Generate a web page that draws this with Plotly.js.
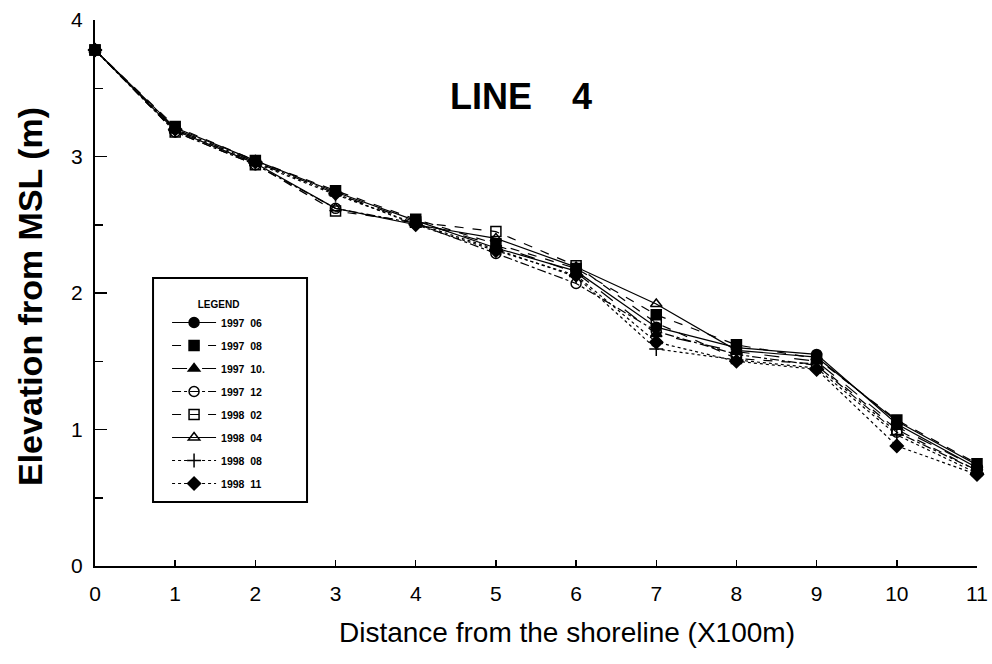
<!DOCTYPE html>
<html>
<head>
<meta charset="utf-8">
<script src="https://cdn.plot.ly/plotly-3.0.1.min.js"></script>
<style>html,body{margin:0;padding:0;background:#fff;}#chart{width:992px;height:664px;}</style>
</head>
<body>
<div id="chart"></div>
<script>
// Distance from shoreline (x100 m)
const distance = [0, 1, 2, 3, 4, 5, 6, 7, 8, 9, 10, 11];
// Survey labels
const surveys = ["1997  06", "1997  08", "1997  10.", "1997  12", "1998  02", "1998  04", "1998  08", "1998  11"];
// Elevation from MSL (m), one array per survey
const elev_199706 = [3.78, 3.21, 2.97, 2.74, 2.53, 2.33, 2.16, 1.75, 1.60, 1.55, 1.04, 0.72];
const elev_199708 = [3.78, 3.22, 2.97, 2.75, 2.54, 2.36, 2.18, 1.84, 1.62, 1.52, 1.07, 0.75];
const elev_199710 = [3.78, 3.20, 2.96, 2.73, 2.52, 2.35, 2.15, 1.70, 1.57, 1.50, 1.02, 0.72];
const elev_199712 = [3.78, 3.18, 2.94, 2.62, 2.51, 2.29, 2.07, 1.72, 1.55, 1.47, 0.98, 0.70];
const elev_199802 = [3.78, 3.18, 2.94, 2.60, 2.52, 2.45, 2.20, 1.78, 1.52, 1.48, 1.00, 0.70];
const elev_199804 = [3.78, 3.19, 2.95, 2.62, 2.50, 2.40, 2.19, 1.92, 1.58, 1.53, 1.06, 0.74];
const elev_199808 = [3.78, 3.19, 2.95, 2.72, 2.51, 2.32, 2.12, 1.59, 1.51, 1.45, 0.96, 0.68];
const elev_199811 = [3.78, 3.20, 2.96, 2.73, 2.50, 2.31, 2.13, 1.64, 1.50, 1.44, 0.88, 0.67];

const series = [elev_199706, elev_199708, elev_199710, elev_199712, elev_199802, elev_199804, elev_199808, elev_199811];
const symbols = ["circle", "square", "triangle-up", "circle-open", "square-open", "triangle-up-open", "cross-thin-open", "diamond"];
const dashes = ["solid", "dash", "longdash", "dashdot", "dash", "solid", "dot", "dot"];

const FONT = "Liberation Sans, Arial, sans-serif";

const traces = series.map((ys, i) => ({
  x: distance,
  y: ys,
  name: surveys[i],
  type: "scatter",
  mode: "lines+markers",
  legendgroup: "g" + i,
  legendrank: i + 1,
  cliponaxis: false,
  line: {color: "#000", width: 1.2, dash: dashes[i]},
  marker: {symbol: symbols[i], size: 10, color: "#000", line: {color: "#000", width: 1.5}}
}));
// draw the filled-square series on top
const order = [0, 2, 3, 4, 5, 6, 7, 1];
const data = order.map(i => traces[i]);

const layout = {
  width: 992, height: 664,
  margin: {l: 95, r: 15, t: 20, b: 98},
  paper_bgcolor: "#fff", plot_bgcolor: "#fff",
  font: {family: FONT, color: "#000"},
  showlegend: true,
  legend: {
    x: 0.0817, y: 0.4963, xanchor: "left", yanchor: "top",
    borderwidth: 0, bgcolor: "rgba(0,0,0,0)",
    font: {size: 10.5, family: FONT, weight: "bold"},
    title: {text: "LEGEND", side: "top center", font: {size: 10, family: FONT, weight: "bold"}},
    tracegroupgap: 4, traceorder: "grouped",
    itemwidth: 44
  },
  shapes: [{
    type: "rect", xref: "paper", yref: "paper",
    x0: 0.0658, x1: 0.2404, y0: 0.1172, y1: 0.5275,
    line: {color: "#000", width: 2}, fillcolor: "#fff", layer: "above"
  }],
  xaxis: {
    range: [0, 11], showgrid: false, zeroline: false,
    showline: true, linecolor: "#000", linewidth: 2,
    tickmode: "linear", tick0: 0, dtick: 1,
    ticks: "inside", ticklen: 6, tickwidth: 1.5, tickcolor: "#000",
    tickfont: {size: 21, family: FONT},
    ticklabelstandoff: 8
  },
  yaxis: {
    range: [0, 4], showgrid: false, zeroline: false,
    showline: true, linecolor: "#000", linewidth: 2,
    tickmode: "linear", tick0: 0, dtick: 1,
    ticks: "inside", ticklen: 12, tickwidth: 1.5, tickcolor: "#000",
    minor: {ticks: "inside", ticklen: 8, dtick: 0.5, tickwidth: 1.5, tickcolor: "#000", showgrid: false},
    tickfont: {size: 21, family: FONT},
    ticklabelstandoff: 6
  },
  annotations: [{
    text: "LINE&nbsp;&nbsp;&nbsp;&nbsp;4", xref: "paper", yref: "paper",
    x: 0.483, y: 0.859, xanchor: "center", yanchor: "middle", showarrow: false,
    font: {size: 36, family: FONT, weight: "bold"}
  }, {
    text: "Distance from the shoreline (X100m)", xref: "paper", yref: "paper",
    x: 0.535, y: -0.121, xanchor: "center", yanchor: "middle", showarrow: false,
    font: {size: 28, family: FONT}
  }, {
    text: "Elevation from MSL (m)", xref: "paper", yref: "paper", textangle: -90,
    x: -0.0737, y: 0.4945, xanchor: "center", yanchor: "middle", showarrow: false,
    font: {size: 34, family: FONT, weight: "bold"}
  }]
};

Plotly.newPlot("chart", data, layout, {displayModeBar: false, staticPlot: true});
</script>
</body>
</html>
